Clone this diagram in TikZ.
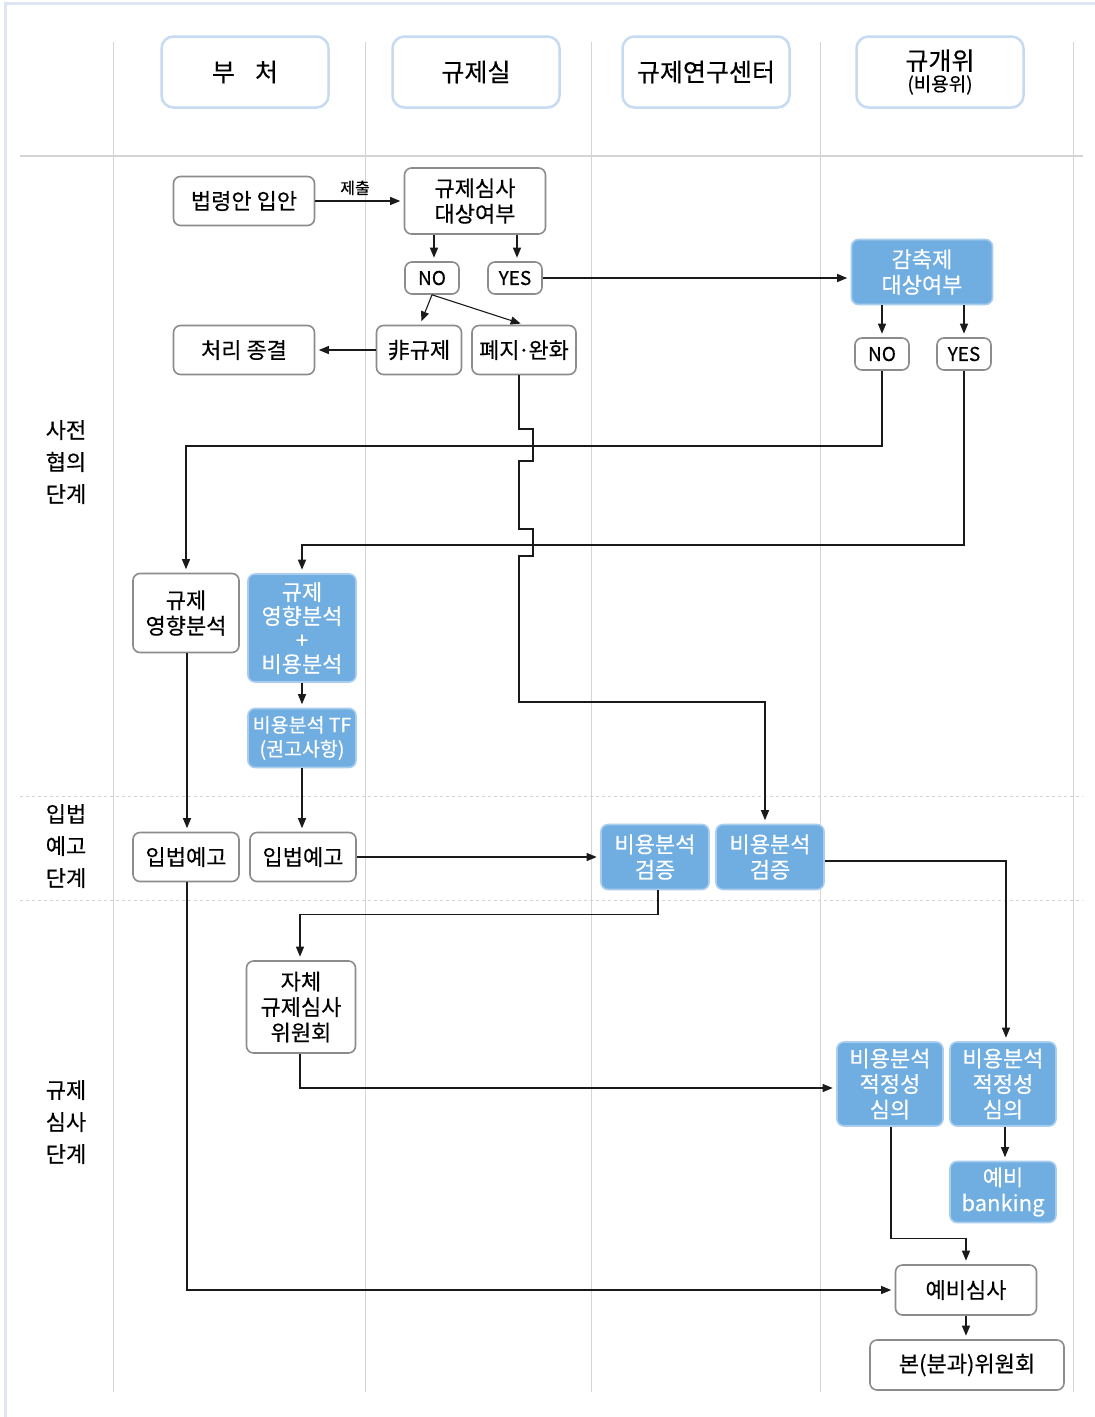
\documentclass[tikz,border=0pt]{standalone}
\usepackage{fontspec}
\setmainfont{Noto Sans CJK KR}[FakeBold=0.4]
\usetikzlibrary{arrows.meta,calc}

\definecolor{framec}{HTML}{DFE4F2}
\definecolor{lanec}{HTML}{D4D4D4}
\definecolor{hdrc}{HTML}{C6DAF2}
\definecolor{boxc}{HTML}{8C8C8C}
\definecolor{bluec}{HTML}{70ADE0}
\definecolor{blueedge}{HTML}{A9CDEF}
\definecolor{linec}{HTML}{1A1A1A}

\tikzset{
  hdr/.style={draw=hdrc, line width=2.5pt, rounded corners=12pt, fill=white,
    minimum width=167pt, minimum height=71pt, inner sep=0pt, align=center,
    font=\fontsize{25}{26}\selectfont},
  box/.style={draw=boxc, line width=1.6pt, rounded corners=7pt, fill=white,
    inner sep=0pt, align=center, font=\fontsize{22}{25.5}\selectfont},
  bluebox/.style={box, fill=bluec, draw=blueedge, text=white},
  tag/.style={box, minimum width=54pt, minimum height=32pt,
    font=\fontsize{19}{20}\selectfont},
  conn/.style={draw=linec, line width=1.1pt, shorten >=3.5pt,
    -{Triangle[length=10pt,width=8pt]}},
  lane/.style={draw=lanec, line width=1pt},
  rowsep/.style={draw=lanec, line width=1pt, dash pattern=on 3pt off 3pt},
  rowlab/.style={align=center, font=\fontsize{22}{32}\selectfont},
}

\begin{document}
\begin{tikzpicture}[x=1pt,y=-1pt]
\useasboundingbox (0,0) rectangle (1095,1417);
\fill[white] (0,0) rectangle (1095,1417);

% outer frame
\draw[framec, line width=3pt] (5,1417) -- (5,3) -- (1095,3);

% swimlane grid
\foreach \lx in {113,365,591,820,1073}
  \draw[lane] (\lx,42) -- (\lx,1392);
\draw[lane, line width=1.3pt] (20,156) -- (1083,156);
\draw[rowsep] (20,796) -- (1083,796);
\draw[rowsep] (20,900) -- (1083,900);

% lane headers
\node[hdr] (h1) at (245,72) {부\hspace{0.8em}처};
\node[hdr] (h2) at (476,72) {규제실};
\node[hdr] (h3) at (706,72) {규제연구센터};
\node[hdr] (h4) at (940,72) {규개위\\[-5pt]{\fontsize{19}{20}\selectfont(비용위)}};

% phase labels
\node[rowlab] (r1) at (66,462) {사전\\협의\\단계};
\node[rowlab] (r2) at (66,846) {입법\\예고\\단계};
\node[rowlab] (r3) at (66,1122) {규제\\심사\\단계};

% process steps
\node[box, minimum width=141pt, minimum height=49pt] (ipan) at (244,201) {법령안 입안};
\node[box, minimum width=141pt, minimum height=66pt] (target) at (475,201) {규제심사\\대상여부};
\node[tag] (no1) at (432,278) {NO};
\node[tag] (yes1) at (515,278) {YES};
\node[box, minimum width=141pt, minimum height=49pt] (closed) at (244,350) {처리 종결};
\node[box, minimum width=85pt, minimum height=49pt] (nonreg) at (419,350) {非규제};
\node[box, minimum width=104pt, minimum height=49pt] (abol) at (524,350) {폐지\kern-0.08em·\kern-0.08em완화};
\node[bluebox, minimum width=141pt, minimum height=65pt] (cut) at (922,272) {감축제\\대상여부};
\node[tag] (no2) at (882,354) {NO};
\node[tag] (yes2) at (964,354) {YES};
\node[box, minimum width=106pt, minimum height=79pt] (ria) at (186,613) {규제\\영향분석};
\node[bluebox, minimum width=108pt, minimum height=108pt, font=\fontsize{22}{24}\selectfont] (riacba) at (302,628) {규제\\영향분석\\+\\비용분석};
\node[bluebox, minimum width=108pt, minimum height=59pt, font=\fontsize{19.5}{24}\selectfont] (tf) at (302,738) {비용분석 TF\\(권고사항)};
\node[box, minimum width=106pt, minimum height=49pt] (notice1) at (186,857) {입법예고};
\node[box, minimum width=106pt, minimum height=49pt] (notice2) at (303,857) {입법예고};
\node[bluebox, minimum width=108pt, minimum height=65pt] (verify1) at (655,857) {비용분석\\검증};
\node[bluebox, minimum width=108pt, minimum height=65pt] (verify2) at (770,857) {비용분석\\검증};
\node[box, minimum width=109pt, minimum height=92pt] (selfrev) at (301,1007) {자체\\규제심사\\위원회};
\node[bluebox, minimum width=106pt, minimum height=84pt] (adequ1) at (890,1084) {비용분석\\적정성\\심의};
\node[bluebox, minimum width=106pt, minimum height=84pt] (adequ2) at (1003,1084) {비용분석\\적정성\\심의};
\node[bluebox, minimum width=106pt, minimum height=61pt] (banking) at (1003,1192) {예비\\banking};
\node[box, minimum width=141pt, minimum height=50pt] (prelim) at (966,1290) {예비심사};
\node[box, minimum width=194pt, minimum height=50pt] (plenary) at (967,1365) {본(분과)위원회};

% crossing heights of the two long return lines
\coordinate (jA) at (0,446);
\coordinate (jB) at (0,545);

% connectors
\draw[conn] (ipan) -- node[above=2pt, pos=0.45, font=\fontsize{16}{18}\selectfont] (submit) {제출} (target);
\draw[conn] ([xshift=2]target.south -| no1) -- ([xshift=2]no1.north);
\draw[conn] ([xshift=2]target.south -| yes1) -- ([xshift=2]yes1.north);
\draw[conn] (no1.south) -- ([xshift=1]nonreg.north);
\draw[conn] (no1.south) -- (abol.north);
\draw[conn] (yes1.east) -- (yes1.east -| cut.west);
\draw[conn] (nonreg) -- (closed);
\draw[conn] (cut.south -| no2) -- (no2.north);
\draw[conn] (cut.south -| yes2) -- (yes2.north);
\draw[conn] (no2.south) -- (no2.south |- jA) -| (ria.north);
\draw[conn] (yes2.south) -- (yes2.south |- jB) -| (riacba.north);

% abolition path hopping over the two crossing lines
\coordinate (ab) at ([xshift=-5]abol.south);
\draw[conn] (ab)
  -- ($(ab |- jA)+(0,-17)$) -- ++(14,0) -- ++(0,32) -- ++(-14,0)
  -- ($(ab |- jB)+(0,-16)$) -- ++(14,0) -- ++(0,27) -- ++(-14,0)
  -- (ab |- 0,702) -| ([xshift=-5]verify2.north);

\draw[conn] ([xshift=1]ria.south) -- ([xshift=1]ria.south |- notice1.north);
\draw[conn] (riacba) -- (tf);
\draw[conn] (tf.south) -- (tf.south |- notice2.north);
\draw[conn] (notice2) -- (notice2 -| verify1.west);
\draw[conn] ([yshift=-4]verify2.east) -| ([xshift=3]adequ2.north);
\draw[conn] ([xshift=3]verify1.south) -- ++(0,24) -| ([xshift=-1]selfrev.north);
\draw[conn] ([xshift=-1]selfrev.south) |- ([yshift=-4]adequ1.west);
\draw[conn] ([xshift=2]adequ2.south) -- ([xshift=2]banking.north);
\draw[conn] ([xshift=1]adequ1.south) -- ++(0,112) -| (prelim.north);
\draw[conn] ([xshift=1]notice1.south) |- (prelim.west);
\draw[conn] (prelim) -- (prelim |- plenary.north);
\end{tikzpicture}
\end{document}
